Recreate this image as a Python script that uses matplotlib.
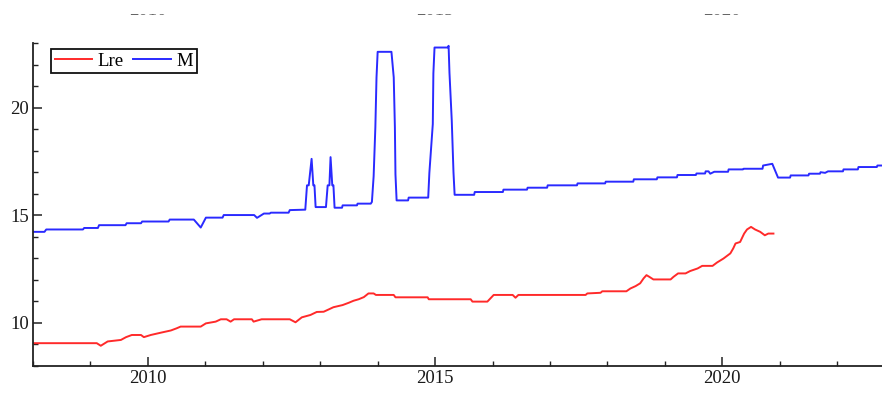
import matplotlib
matplotlib.use("Agg")
import matplotlib.pyplot as plt
from matplotlib.patches import Rectangle
from matplotlib.ticker import MultipleLocator
from matplotlib.transforms import blended_transform_factory

# series (decimal year, value)
lre_years = [2008.0, 2009.11, 2009.18, 2009.30, 2009.53, 2009.62, 2009.72, 2009.88,
             2009.93, 2010.05, 2010.23, 2010.40, 2010.50, 2010.57, 2010.92, 2011.01,
             2011.18, 2011.27, 2011.37, 2011.44, 2011.50, 2011.81, 2011.84, 2011.98,
             2012.47, 2012.57, 2012.68, 2012.83, 2012.94, 2013.06, 2013.15, 2013.23,
             2013.39, 2013.50, 2013.58, 2013.67, 2013.76, 2013.84, 2013.93, 2013.97,
             2014.28, 2014.31, 2014.87, 2014.89, 2015.62, 2015.65, 2015.91, 2016.02,
             2016.35, 2016.40, 2016.45, 2017.62, 2017.65, 2017.88, 2017.91, 2018.33,
             2018.40, 2018.49, 2018.57, 2018.63, 2018.68, 2018.73, 2018.80, 2019.10,
             2019.15, 2019.23, 2019.36, 2019.44, 2019.57, 2019.65, 2019.83, 2019.91,
             2020.02, 2020.14, 2020.19, 2020.23, 2020.31, 2020.38, 2020.43, 2020.50,
             2020.57, 2020.66, 2020.74, 2020.80, 2020.89]
lre_values = [9.06, 9.06, 8.94, 9.14, 9.21, 9.34, 9.44, 9.44,
              9.34, 9.44, 9.55, 9.65, 9.75, 9.83, 9.83, 9.98,
              10.06, 10.17, 10.17, 10.06, 10.17, 10.17, 10.06, 10.17,
              10.17, 10.03, 10.26, 10.37, 10.51, 10.52, 10.63, 10.73,
              10.83, 10.94, 11.03, 11.10, 11.20, 11.37, 11.37, 11.30,
              11.30, 11.19, 11.19, 11.10, 11.10, 10.99, 10.99, 11.30,
              11.30, 11.17, 11.30, 11.30, 11.37, 11.40, 11.47, 11.47,
              11.60, 11.71, 11.84, 12.07, 12.22, 12.14, 12.02, 12.02,
              12.14, 12.30, 12.30, 12.41, 12.53, 12.65, 12.65, 12.81,
              12.99, 13.23, 13.46, 13.69, 13.76, 14.15, 14.34, 14.46,
              14.34, 14.23, 14.07, 14.15, 14.15]

m_years = [2008.0, 2008.20, 2008.23, 2008.87, 2008.89, 2009.13, 2009.15, 2009.61,
           2009.63, 2009.88, 2009.90, 2010.36, 2010.38, 2010.80, 2010.92, 2011.01,
           2011.30, 2011.32, 2011.85, 2011.90, 2011.96, 2012.02, 2012.12, 2012.14,
           2012.45, 2012.47, 2012.74, 2012.77, 2012.80, 2012.85, 2012.88, 2012.90,
           2012.92, 2013.10, 2013.13, 2013.16, 2013.18, 2013.21, 2013.23, 2013.25,
           2013.38, 2013.39, 2013.64, 2013.65, 2013.88, 2013.90, 2013.93, 2013.96,
           2013.98, 2014.00, 2014.24, 2014.28, 2014.30, 2014.31, 2014.33, 2014.53,
           2014.54, 2014.88, 2014.90, 2014.96, 2014.97, 2014.99, 2015.22, 2015.235,
           2015.25, 2015.29, 2015.32, 2015.34, 2015.68, 2015.69, 2016.18, 2016.19,
           2016.60, 2016.61, 2016.95, 2016.96, 2017.47, 2017.48, 2017.96, 2017.97,
           2018.45, 2018.46, 2018.86, 2018.87, 2019.21, 2019.22, 2019.54, 2019.55,
           2019.70, 2019.71, 2019.76, 2019.79, 2019.86, 2020.10, 2020.11, 2020.36,
           2020.37, 2020.70, 2020.71, 2020.87, 2020.97, 2021.18, 2021.19, 2021.50,
           2021.51, 2021.70, 2021.71, 2021.79, 2021.84, 2022.10, 2022.11, 2022.36,
           2022.37, 2022.69, 2022.70, 2022.80]
m_values = [14.23, 14.23, 14.34, 14.34, 14.41, 14.41, 14.54, 14.54,
            14.63, 14.63, 14.71, 14.71, 14.80, 14.80, 14.43, 14.89,
            14.89, 15.01, 15.01, 14.88, 14.98, 15.08, 15.08, 15.12,
            15.12, 15.24, 15.26, 16.39, 16.39, 17.62, 16.39, 16.39,
            15.38, 15.38, 16.39, 16.39, 17.70, 16.39, 16.39, 15.35,
            15.35, 15.46, 15.46, 15.54, 15.54, 15.62, 16.81, 19.09,
            21.40, 22.59, 22.59, 21.40, 19.09, 16.90, 15.69, 15.69,
            15.82, 15.82, 16.96, 19.24, 21.59, 22.79, 22.79, 22.87,
            21.63, 19.40, 17.00, 15.95, 15.95, 16.08, 16.08, 16.19,
            16.19, 16.28, 16.28, 16.39, 16.39, 16.48, 16.48, 16.56,
            16.56, 16.67, 16.67, 16.76, 16.76, 16.87, 16.87, 16.94,
            16.94, 17.04, 17.04, 16.93, 17.02, 17.02, 17.13, 17.13,
            17.16, 17.16, 17.31, 17.39, 16.75, 16.75, 16.85, 16.85,
            16.93, 16.93, 17.00, 16.97, 17.04, 17.04, 17.13, 17.13,
            17.24, 17.24, 17.31, 17.31]

major_years = [2010, 2015, 2020]
major_values = [10, 15, 20]

plt.rcParams['font.family'] = ['Liberation Serif', 'DejaVu Serif']

fig = plt.figure(figsize=(8.82, 3.94), dpi=100)
ax = fig.add_axes([33 / 882, 28 / 394, 849 / 882, 323 / 394])

ax.plot(lre_years, lre_values, color='#ff2a2a', lw=1.4, label='Lre')
ax.plot(m_years, m_values, color='#2a2aff', lw=1.4, label='M')

ax.set_xlim(2008.0, 2022.78)
ax.set_ylim(8.0, 23.0)

ax.spines['top'].set_visible(False)
ax.spines['right'].set_visible(False)
for side in ('left', 'bottom'):
    ax.spines[side].set_linewidth(1.3)
    ax.spines[side].set_color('#222222')

ax.set_xticks(major_years)
ax.set_yticks(major_values)
ax.xaxis.set_minor_locator(MultipleLocator(1))
ax.yaxis.set_minor_locator(MultipleLocator(1))
ax.tick_params(which='major', direction='in', length=6.5, width=1.1,
               color='#222222', labelsize=13.5, labelcolor='#1a1a1a', pad=3)
ax.tick_params(which='minor', direction='in', length=3.5, width=1.0,
               color='#222222')

# mirrored top labels, almost all cut away in the reference
trans = blended_transform_factory(ax.transData, fig.transFigure)
for yr in major_years:
    ax.text(yr, 1 - 15 / 394, str(yr), transform=trans, ha='center',
            va='baseline', fontsize=13.5, color='#666666', clip_on=False)
fig.add_artist(Rectangle((0, 1 - 14 / 394), 1, 14 / 394, transform=fig.transFigure,
                         facecolor='white', edgecolor='none', zorder=10))

leg = ax.legend(loc='upper left', bbox_to_anchor=(0.021, 0.982), ncol=2,
                borderaxespad=0, fancybox=False, framealpha=1,
                edgecolor='#111111', fontsize=13.5, handlelength=2.0,
                handletextpad=0.3, columnspacing=0.5, borderpad=0.2)
leg.get_frame().set_linewidth(1.3)

fig.savefig('out.png', dpi=100)
